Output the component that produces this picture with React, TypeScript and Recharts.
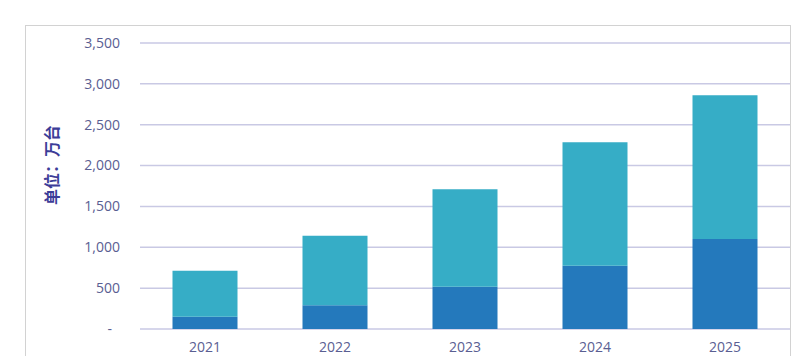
import React from 'react'
import { BarChart, Bar, XAxis, YAxis, CartesianGrid } from 'recharts'

// values in 万台
const years = ['2021', '2022', '2023', '2024', '2025']
const lowerPart = [150, 290, 518, 775, 1101]
const totals = [713, 1142, 1709, 2285, 2860]
const yTicks = [0, 500, 1000, 1500, 2000, 2500, 3000, 3500]
const unitLabel = '单位：万台'

const chartData = years.map((year, i) => ({
  year,
  lower: lowerPart[i],
  upper: totals[i] - lowerPart[i],
}))

const tickColor = '#5a5e92'
const numFont = '"Open Sans", "Noto Sans", sans-serif'

const YTick = (props: any) => {
  const { x, y, payload } = props
  const v = payload.value
  const txt = v === 0 ? '-' : v.toLocaleString('en-US')
  return (
    <text
      x={v === 0 ? x - 8 : x}
      y={y}
      dy="0.35em"
      textAnchor="end"
      fill={tickColor}
      fontSize={14}
      fontFamily={numFont}
    >
      {txt}
    </text>
  )
}

const UnitLabel = () => (
  <text
    x={0}
    y={0}
    transform="translate(58, 165) rotate(-90)"
    textAnchor="middle"
    fill="#3c3c98"
    fontSize={16}
    fontWeight={600}
    fontFamily='"Noto Sans CJK SC", sans-serif'
  >
    {unitLabel}
  </text>
)

export default function App() {
  return (
    <div style={{ position: 'absolute', left: 0, top: 0, width: 811, height: 356, overflow: 'hidden', background: '#fff' }}>
      {/* outer frame */}
      <div
        style={{
          position: 'absolute',
          left: 25,
          top: 25,
          width: 764,
          height: 400,
          border: '1px solid #d2d2d2',
        }}
      />
      <div style={{ position: 'absolute', left: 0, top: 0 }}>
        <BarChart
          width={811}
          height={356}
          data={chartData}
          margin={{ top: 43, right: 21, bottom: 0, left: 0 }}
          barCategoryGap="25%"
        >
          <CartesianGrid vertical={false} stroke="#c9c9e4" strokeWidth={1.5} />
          <XAxis
            dataKey="year"
            height={27}
            axisLine={false}
            tickLine={false}
            tickMargin={7}
            tick={{ fill: tickColor, fontSize: 14, fontFamily: numFont }}
          />
          <YAxis
            width={140}
            domain={[0, 3500]}
            ticks={yTicks}
            axisLine={false}
            tickLine={false}
            tickMargin={14}
            tick={<YTick />}
            label={{ content: () => <UnitLabel /> }}
          />
          <Bar dataKey="lower" stackId="a" fill="#2479bc" isAnimationActive={false} />
          <Bar dataKey="upper" stackId="a" fill="#36adc6" isAnimationActive={false} />
        </BarChart>
      </div>
    </div>
  )
}
